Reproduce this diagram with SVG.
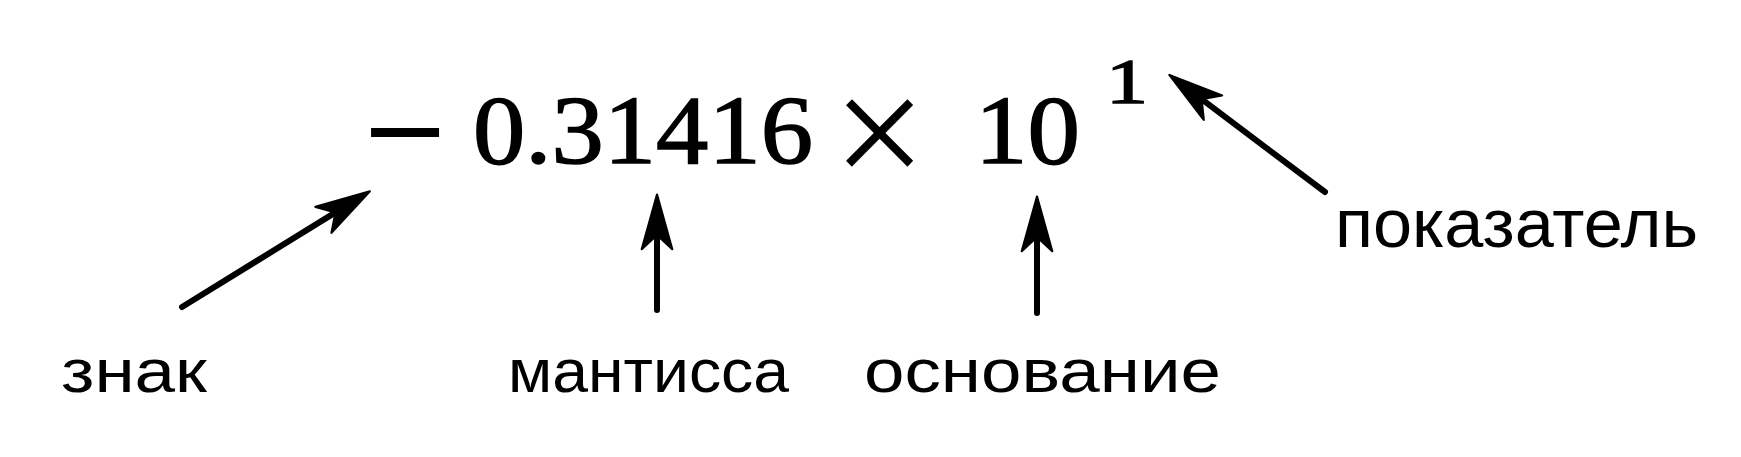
<svg xmlns="http://www.w3.org/2000/svg" width="1741" height="457" viewBox="0 0 1741 457">
  <style>
    .num { font-family: "Liberation Serif", "Times New Roman", serif; fill: #000; }
    .lbl { font-family: "Liberation Sans", Arial, sans-serif; fill: #000; }
    .arr { stroke: #000; stroke-width: 6; fill: none; stroke-linecap: round; marker-end: url(#head); }
  </style>
  <defs>
    <marker id="head" markerUnits="userSpaceOnUse" markerWidth="60" markerHeight="40" viewBox="-15 -16 55 32" refX="0" refY="0" orient="auto">
      <path d="M37,0 L-13,-14 L0,0 L-13,14 Z" fill="#000" stroke="#000" stroke-width="2" stroke-linejoin="round"/>
    </marker>
  </defs>
  <rect width="1741" height="457" fill="#fff"/>
  <g id="formula">
    <text id="sign" class="num" x="365" y="179" font-size="140" stroke="#000" stroke-width="2" textLength="80" lengthAdjust="spacingAndGlyphs">−</text>
    <text id="mantissa-value" class="num" x="473" y="163" font-size="98" stroke="#000" stroke-width="1.5" textLength="340" lengthAdjust="spacingAndGlyphs">0.31416</text>
    <text id="times" class="num" x="833" y="188" font-size="165">×</text>
    <text id="base-value" class="num" x="975" y="163" font-size="98" stroke="#000" stroke-width="1.5" textLength="105" lengthAdjust="spacingAndGlyphs">10</text>
    <text id="exponent-value" class="num" x="1106" y="103" font-size="64" stroke="#000" stroke-width="1.5" textLength="42" lengthAdjust="spacingAndGlyphs">1</text>
  </g>
  <g id="connectors">
    <path class="arr" d="M182,307 L335.5,212.4"/>
    <path class="arr" d="M657,310 L657,235"/>
    <path class="arr" d="M1037,313 L1037,237"/>
    <path class="arr" d="M1325,192 L1201.6,99.2"/>
  </g>
  <g id="label-sign"><text class="lbl" x="61" y="392" font-size="62" textLength="146" lengthAdjust="spacingAndGlyphs">знак</text></g>
  <g id="label-mantissa"><text class="lbl" x="508" y="392" font-size="62" textLength="281" lengthAdjust="spacingAndGlyphs">мантисса</text></g>
  <g id="label-base"><text class="lbl" x="864" y="392" font-size="62" textLength="357" lengthAdjust="spacingAndGlyphs">основание</text></g>
  <g id="label-exponent"><text class="lbl" x="1335" y="247" font-size="68" textLength="363" lengthAdjust="spacingAndGlyphs">показатель</text></g>
</svg>
